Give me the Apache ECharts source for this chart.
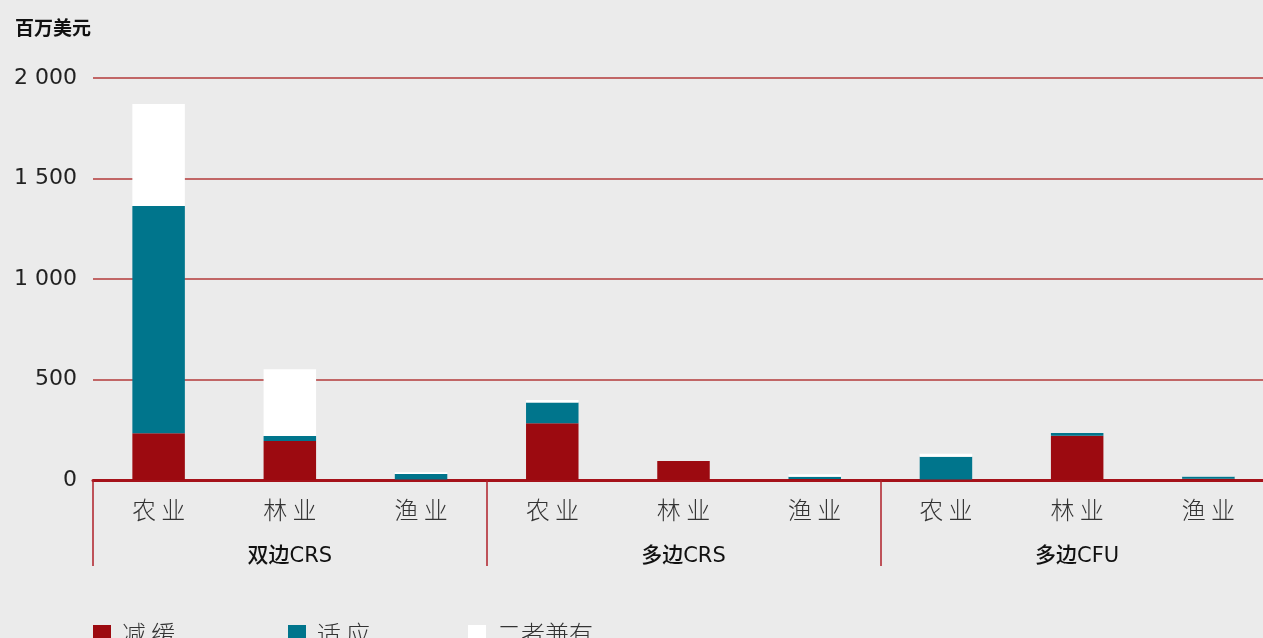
<!DOCTYPE html>
<html>
<head>
<meta charset="utf-8">
<script src="https://cdn.jsdelivr.net/npm/echarts@6/dist/echarts.min.js"></script>
<style>
  html, body { margin: 0; padding: 0; background: #ebebeb; overflow: hidden; }
  #chart { width: 1274px; height: 638px; }
</style>
</head>
<body>
<div id="chart"></div>
<script>
// categories
const sectors = ["农 业", "林 业", "渔 业", "农 业", "林 业", "渔 业", "农 业", "林 业", "渔 业"];
const groups = ["双边CRS", "多边CRS", "多边CFU"];
const yTicks = [0, 500, 1000, 1500, 2000];

// series values (百万美元)
const mitigation = [232, 194, 3, 282, 94, 5, 3, 220, 6];
const adaptation = [1131, 25, 27, 103, 0, 11, 113, 14, 12];
const both = [508, 332, 8, 13, 0, 12, 15, 0, 2];

const RED = "#9c0a10";
const TEAL = "#00758c";
const WHITE = "#ffffff";
const AXIS_RED = "#a5121a";

const chart = echarts.init(document.getElementById("chart"));

const sansFont = "'DejaVu Sans', 'Noto Sans', sans-serif";
const cjkFont = "'Noto Sans CJK SC', sans-serif";

function legendItem(name, left) {
  return {
    left: left,
    top: 617,
    icon: "rect",
    itemWidth: 18,
    itemHeight: 18,
    itemGap: 0,
    selectedMode: false,
    data: [name],
    textStyle: { fontFamily: cjkFont, fontSize: 24, fontWeight: 300, color: "#333", padding: [0, 0, 0, 6] },
  };
}

chart.setOption({
  backgroundColor: "#ebebeb",
  animation: false,
  title: {
    text: "百万美元",
    left: 10,
    top: 13,
    textStyle: { fontFamily: cjkFont, fontSize: 19, fontWeight: "bold", color: "#111" },
  },
  legend: [
    legendItem("减 缓", 88),
    legendItem("适 应", 283),
    legendItem("二者兼有", 463),
  ],
  grid: { left: 93, right: 0, top: 78, bottom: 158 },
  xAxis: [
    {
      type: "category",
      data: sectors,
      position: "bottom",
      axisLine: { show: true, lineStyle: { color: AXIS_RED, width: 3 } },
      axisTick: { show: false },
      axisLabel: {
        interval: 0,
        margin: 18,
        fontFamily: cjkFont,
        fontSize: 24,
        fontWeight: 300,
        color: "#333",
      },
    },
    {
      type: "category",
      data: groups,
      position: "bottom",
      axisLine: { show: false, lineStyle: { color: AXIS_RED } },
      axisTick: { show: true, interval: 0, length: 86, lineStyle: { color: "#b0202a", width: 1.5 } },
      axisLabel: {
        interval: 0,
        margin: 66,
        fontFamily: "'DejaVu Sans', 'Noto Sans CJK SC', sans-serif",
        fontSize: 21,
        fontWeight: 500,
        color: "#111",
      },
    },
  ],
  yAxis: {
    type: "value",
    min: yTicks[0],
    max: yTicks[yTicks.length - 1],
    interval: 500,
    axisLine: { show: false },
    axisTick: { show: false },
    splitLine: { lineStyle: { color: "#b33a3a", width: 1.5 } },
    axisLabel: {
      margin: 16,
      fontFamily: sansFont,
      fontSize: 22,
      color: "#222",
      formatter: (v) => String(v).replace(/\B(?=(\d{3})+(?!\d))/g, " "),
    },
  },
  series: [
    {
      name: "减 缓",
      type: "bar",
      stack: "total",
      barWidth: "40%",
      data: mitigation,
      itemStyle: { color: RED },
    },
    {
      name: "适 应",
      type: "bar",
      stack: "total",
      data: adaptation,
      itemStyle: { color: TEAL },
    },
    {
      name: "二者兼有",
      type: "bar",
      stack: "total",
      data: both,
      itemStyle: { color: WHITE },
    },
  ],
});
</script>
</body>
</html>
